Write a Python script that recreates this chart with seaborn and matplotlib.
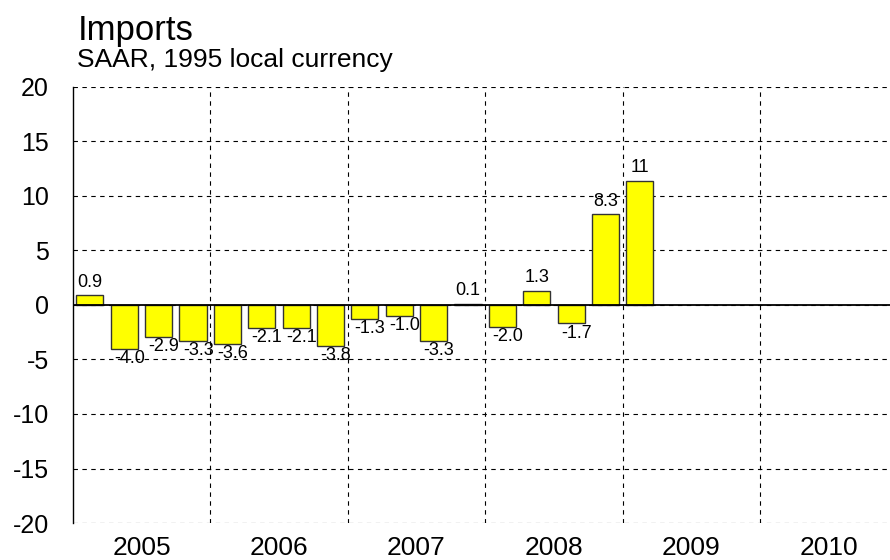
import numpy as np
import pandas as pd
import matplotlib
matplotlib.use("Agg")
import matplotlib.pyplot as plt
import seaborn as sns

# Quarterly imports growth (SAAR), 2005Q1 - 2009Q1; later quarters empty
years = ['2005', '2006', '2007', '2008', '2009', '2010']
quarters = [f'{y}Q{q}' for y in years for q in range(1, 5)]
values = [0.9, -4.0, -2.9, -3.3,
          -3.6, -2.1, -2.1, -3.8,
          -1.3, -1.0, -3.3, 0.1,
          -2.0, 1.3, -1.7, 8.3,
          11.4]
labels = ['0.9', '-4.0', '-2.9', '-3.3',
          '-3.6', '-2.1', '-2.1', '-3.8',
          '-1.3', '-1.0', '-3.3', '0.1',
          '-2.0', '1.3', '-1.7', '8.3',
          '11']

df = pd.DataFrame({'Quarter': quarters[:len(values)], 'Value': values})

sns.set_style("white")
plt.rcParams['font.family'] = ['Liberation Sans', 'DejaVu Sans']
plt.rcParams['text.color'] = 'black'
plt.rcParams['xtick.color'] = 'black'
plt.rcParams['ytick.color'] = 'black'

fig = plt.figure(figsize=(8.9, 5.6), dpi=100)
# axes run slightly past the right edge of the figure, as in the original
ax = fig.add_axes([0.0817, 0.066, 0.927, 0.779])

sns.barplot(data=df, x='Quarter', y='Value', order=quarters, color='#ffff00',
            edgecolor='#333333', linewidth=1.0, width=0.79, saturation=1, ax=ax)

for i, (v, lab) in enumerate(zip(values, labels)):
    if v >= 0:
        ax.text(i, v + 0.4, lab, ha='center', va='bottom', fontsize=13)
    else:
        ax.text(i + 0.15, v - 0.1, lab, ha='center', va='top', fontsize=13)

ax.set_xlim(-0.5, len(quarters) - 0.5)
ax.set_ylim(-20, 20)
ax.set_yticks(np.arange(-20, 21, 5))
ax.set_yticklabels([str(t) for t in range(-20, 21, 5)], fontsize=18)

# year labels centred in each year, gridlines at year boundaries
ax.set_xticks([i * 4 + 1.5 for i in range(len(years))])
ax.set_xticklabels(years, fontsize=19)
ax.set_xticks([i * 4 + 3.5 for i in range(len(years) - 1)], minor=True)
ax.tick_params(axis='both', which='both', length=0)
ax.tick_params(axis='y', pad=17)
ax.tick_params(axis='x', pad=9)

ax.grid(True, axis='y', which='major', color='black', linestyle=(0, (4, 4)), linewidth=0.8)
ax.grid(True, axis='x', which='minor', color='black', linestyle=(0, (4, 4)), linewidth=0.8)
ax.grid(False, axis='x', which='major')
ax.set_axisbelow(True)
ax.axhline(0, color='black', linewidth=1.3, zorder=3)

for s in ['top', 'right', 'bottom']:
    ax.spines[s].set_visible(False)
ax.spines['left'].set_color('black')
ax.spines['left'].set_linewidth(1.0)

ax.set_xlabel('')
ax.set_ylabel('')

fig.text(0.087, 0.929, 'Imports', fontsize=25, ha='left', va='baseline')
fig.text(0.087, 0.88, 'SAAR, 1995 local currency', fontsize=19, ha='left', va='baseline')

fig.savefig('out.png', dpi=100)
